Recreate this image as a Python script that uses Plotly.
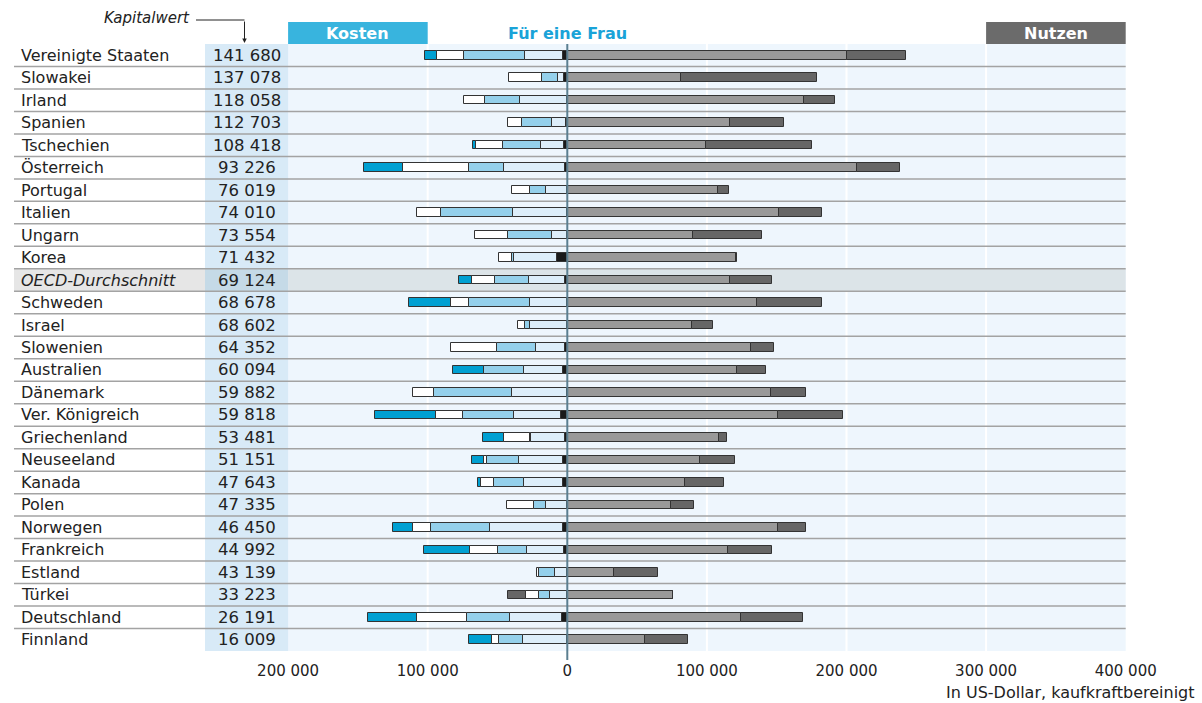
import plotly.graph_objects as go

# Länder und Kapitalwert (Nettobarwert) für eine Frau
countries = ["Vereinigte Staaten", "Slowakei", "Irland", "Spanien", "Tschechien", "Österreich",
             "Portugal", "Italien", "Ungarn", "Korea", "OECD-Durchschnitt", "Schweden", "Israel",
             "Slowenien", "Australien", "Dänemark", "Ver. Königreich", "Griechenland", "Neuseeland",
             "Kanada", "Polen", "Norwegen", "Frankreich", "Estland", "Türkei", "Deutschland", "Finnland"]
kapitalwert = ["141 680", "137 078", "118 058", "112 703", "108 418", "93 226", "76 019", "74 010",
               "73 554", "71 432", "69 124", "68 678", "68 602", "64 352", "60 094", "59 882",
               "59 818", "53 481", "51 151", "47 643", "47 335", "46 450", "44 992", "43 139",
               "33 223", "26 191", "16 009"]

# Kosten (in Tausend US-Dollar), von der Nulllinie nach links gestapelt
cost_black = [3.0, 2.4, 0, 1.0, 2.4, 1.5, 0, 0, 0, 7.6, 1.9, 0, 0, 1.9, 3.1, 0, 4.8, 1.9, 2.9,
              2.9, 0, 2.9, 2.4, 0, 0, 3.8, 0]
cost_vlight = [27.0, 4.3, 33.7, 10.0, 16.5, 43.9, 15.5, 39.2, 11.2, 30.4, 25.8, 27.0, 26.5, 20.3,
               27.9, 39.9, 33.6, 23.9, 32.0, 28.4, 15.3, 52.5, 26.7, 8.8, 12.2, 37.0, 32.0]
cost_light = [44.0, 11.4, 25.5, 21.5, 26.9, 24.8, 11.2, 51.3, 31.1, 1.9, 24.1, 43.7, 4.1, 28.4,
              28.5, 55.8, 36.1, 1.2, 22.9, 21.0, 8.6, 42.0, 20.6, 11.3, 8.3, 31.3, 16.7]
cost_white = [19.0, 23.9, 14.6, 10.2, 19.6, 47.3, 13.2, 17.4, 23.8, 9.3, 16.3, 12.9, 4.7, 33.0,
              0, 15.1, 19.8, 18.4, 1.9, 9.3, 19.6, 13.4, 20.0, 1.6, 9.3, 35.3, 5.5]
cost_teal = [9.0, 0, 0, 0, 2.2, 27.9, 0, 0, 0, 0, 9.7, 30.1, 0, 0, 22.4, 0, 43.2, 15.0, 8.8,
             2.6, 0, 13.8, 32.7, 0, 0, 35.2, 16.0]
cost_grey = [0, 0, 0, 0, 0, 0, 0, 0, 0, 0, 0, 0, 0, 0, 0, 0, 0, 0, 0, 0, 0, 0, 0, 0, 12.7, 0, 0]

# Nutzen (in Tausend US-Dollar)
benefit_main = [200.6, 81.2, 169.2, 116.2, 99.4, 207.5, 107.9, 151.6, 90.0, 120.7, 116.5, 135.9,
                89.3, 131.6, 121.6, 145.9, 150.9, 108.6, 95.1, 84.3, 74.3, 150.9, 115.1, 33.5,
                75.7, 124.5, 55.6]
benefit_total = [242.3, 179.1, 191.6, 155.0, 175.1, 238.3, 115.8, 182.4, 139.4, 121.4, 146.6,
                 182.4, 104.4, 148.0, 142.3, 171.0, 197.4, 114.4, 120.1, 112.2, 90.7, 171.0,
                 146.6, 65.0, 75.7, 168.9, 86.5]

tick_vals = [-200, -100, 0, 100, 200, 300, 400]
tick_text = ["200 000", "100 000", "0", "100 000", "200 000", "300 000", "400 000"]

FONT = "DejaVu Sans"
TEXT = "#222222"
ZERO_PX = 567.3
PX_PER_K = 1.396


def px(p):
    """Pixelposition -> x-Wert (Tausend US-Dollar)"""
    return (p - ZERO_PX) / PX_PER_K


def py(p):
    """Pixelposition -> y-Papierkoordinate"""
    return (651 - p) / 607


rows = list(range(len(countries)))
fig = go.Figure()

segments = [
    (cost_black, "#1a1a1a", -1),
    (cost_vlight, "#ddeefa", -1),
    (cost_light, "#94d0eb", -1),
    (cost_white, "#ffffff", -1),
    (cost_teal, "#00a0d2", -1),
    (cost_grey, "#666666", -1),
    (benefit_main, "#999999", 1),
    ([t - m for t, m in zip(benefit_total, benefit_main)], "#666666", 1),
]
for vals, color, sign in segments:
    fig.add_trace(go.Bar(
        y=rows, x=[sign * v for v in vals], orientation="h",
        marker=dict(color=color, line=dict(color="#333333", width=1)),
        width=0.38, showlegend=False, hoverinfo="skip"
    ))

shapes = []
# Hintergründe
shapes.append(dict(type="rect", xref="x", yref="paper", x0=-200, x1=400, y0=0, y1=1,
                   fillcolor="#eef6fd", line_width=0, layer="below"))
shapes.append(dict(type="rect", xref="x", yref="paper", x0=px(205), x1=-200, y0=0, y1=1,
                   fillcolor="#d8eaf7", line_width=0, layer="below"))
oecd = countries.index("OECD-Durchschnitt")
for x0, x1, col in [(px(14), px(205), "#e6e6e6"), (px(205), -200, "#c5dae7"),
                    (-200, 400, "#dce4e8")]:
    shapes.append(dict(type="rect", xref="x", yref="y", x0=x0, x1=x1, y0=oecd - 0.5,
                       y1=oecd + 0.5, fillcolor=col, line_width=0, layer="below"))
for g in [-100, 100, 200, 300]:
    shapes.append(dict(type="line", xref="x", yref="paper", x0=g, x1=g, y0=0, y1=1,
                       line=dict(color="white", width=2), layer="below"))
for i in rows[:-1]:
    shapes.append(dict(type="line", xref="x", yref="y", x0=px(14), x1=400, y0=i + 0.5,
                       y1=i + 0.5, line=dict(color="#a3a3a3", width=1.5), layer="below"))
# Nulllinie
shapes.append(dict(type="line", xref="x", yref="paper", x0=0, x1=0, y0=py(660), y1=1,
                   line=dict(color="#5b7f90", width=2), layer="above"))
# Kopfboxen
shapes.append(dict(type="rect", xref="x", yref="paper", x0=-200, x1=-100, y0=1, y1=py(22),
                   fillcolor="#38b4de", line_width=0))
shapes.append(dict(type="rect", xref="x", yref="paper", x0=300, x1=400, y0=1, y1=py(22),
                   fillcolor="#6b6b6b", line_width=0))
# Kapitalwert-Zeiger
shapes.append(dict(type="line", xref="x", yref="paper", x0=px(196), x1=px(244.5), y0=py(20),
                   y1=py(20), line=dict(color=TEXT, width=1)))

annotations = []
for i, (c, k) in enumerate(zip(countries, kapitalwert)):
    italic = c == "OECD-Durchschnitt"
    annotations.append(dict(x=px(19), y=i, xref="x", yref="y", text=f"<i>{c}</i>" if italic else c,
                            showarrow=False, xanchor="left", yanchor="middle",
                            font=dict(family=FONT, size=16, color=TEXT)))
    annotations.append(dict(x=px(247), y=i, xref="x", yref="y", text=k, showarrow=False,
                            xanchor="center", yanchor="middle",
                            font=dict(family=FONT, size=16.5, color=TEXT)))

annotations += [
    dict(x=-150, y=py(33), xref="x", yref="paper", text="<b>Kosten</b>", showarrow=False,
         yanchor="middle", font=dict(family=FONT, size=16, color="white")),
    dict(x=350, y=py(33), xref="x", yref="paper", text="<b>Nutzen</b>", showarrow=False,
         yanchor="middle", font=dict(family=FONT, size=16, color="white")),
    dict(x=0, y=py(33), xref="x", yref="paper", text="<b>Für eine Frau</b>", showarrow=False,
         yanchor="middle", font=dict(family=FONT, size=16, color="#1aa3d8")),
    dict(x=px(192), y=py(18), xref="x", yref="paper", text="<i>Kapitalwert</i>", showarrow=False,
         xanchor="right", yanchor="middle", font=dict(family=FONT, size=15, color=TEXT)),
    dict(x=px(244.5), y=py(43), xref="x", yref="paper", text="", showarrow=True, ax=0, ay=-23,
         arrowhead=2, arrowsize=0.9, arrowwidth=1, arrowcolor=TEXT),
    dict(x=1197 / 1126, y=py(692), xref="paper", yref="paper", text="In US-Dollar, kaufkraftbereinigt",
         showarrow=False, xanchor="right", yanchor="middle",
         font=dict(family=FONT, size=16, color=TEXT)),
]

fig.update_layout(
    barmode="relative",
    bargap=0,
    width=1202, height=703,
    margin=dict(l=0, r=76, t=44, b=52),
    paper_bgcolor="white", plot_bgcolor="white",
    xaxis=dict(range=[px(0), px(1126)], tickvals=tick_vals, ticktext=tick_text,
               showgrid=False, zeroline=False, showline=False, ticks="",
               ticklabelstandoff=9, ticklabeloverflow="allow",
               tickfont=dict(family=FONT, size=15, color=TEXT),
               fixedrange=True),
    yaxis=dict(range=[len(countries) - 0.5, -0.5], visible=False, fixedrange=True),
    shapes=shapes,
    annotations=annotations,
    showlegend=False,
)

fig.write_html("out.html", config={"displayModeBar": False},
               post_script="document.body.style.margin = '0';")
